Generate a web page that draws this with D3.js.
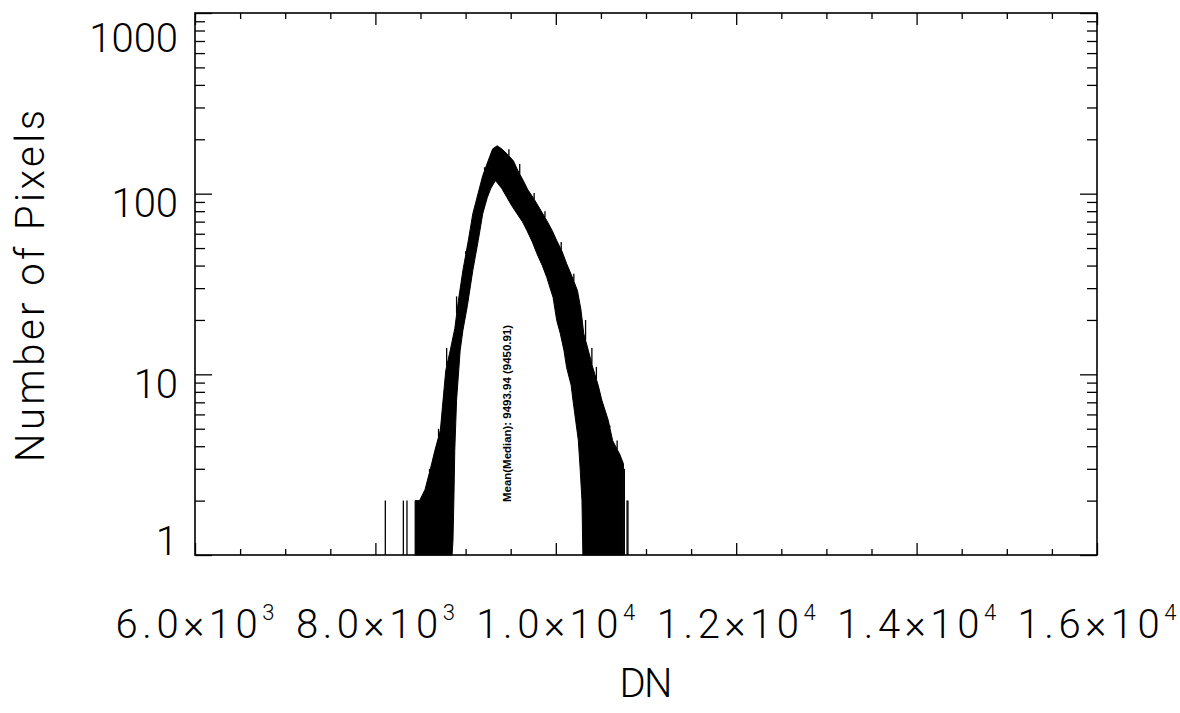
<!DOCTYPE html>
<html><head><meta charset="utf-8">
<script src="https://cdn.jsdelivr.net/npm/d3@7"></script>
<style>
body{margin:0;background:#fff;}
svg text{font-family:Roboto,"Liberation Sans","DejaVu Sans",sans-serif;font-weight:300;fill:#000;}
</style></head><body>
<svg id="c" width="1180" height="713"></svg>
<script>
// ---- data ----
const xTickValues   = [6000, 8000, 10000, 12000, 14000, 16000];
const xTickMantissa = ["6.0", "8.0", "1.0", "1.2", "1.4", "1.6"];
const xTickExponent = ["3", "3", "4", "4", "4", "4"];
const yTickValues   = [1, 10, 100, 1000];
const yTickLabels   = ["1", "10", "100", "1000"];

// upper envelope of the (very noisy, 1-DN bin) histogram band
const upperDN    = [8440,8490,8550,8610,8660,8720,8750,8780,8830,8880,8920,8970,9030,9080,9140,9190,9250,9300,9350,9400,9460,9530,9580,9640,9690,9750,9820,9900,9960,10010,10070,10120,10180,10240,10280,10310,10360,10410,10470,10510,10580,10630,10710,10750];
const upperCount = [2,2,2.3,3,3.8,4.9,7.2,10.5,13.6,17.9,25.6,37.6,55,77.5,101,126,152,177,184,177,166,152,134,118,105,95,83,71,62.5,55,47.8,41,34.8,29.1,22.6,16.8,13.6,10.9,8.7,7.2,5.6,4.3,3.6,3.2];
// lower envelope of the band (0 = empty bins, drawn at the bottom of the plot)
const lowerDN    = [8440,8850,8860,8870,8880,8900,8940,8970,9020,9080,9140,9190,9240,9280,9330,9350,9400,9460,9510,9570,9630,9680,9740,9790,9850,9900,9970,10010,10050,10090,10120,10170,10190,10250,10270,10290,10300,10750];
const lowerCount = [0,0,1.2,2,3.8,7.2,13.6,17.5,24,37.6,55,77.5,95,107,118,115,107,95,86,77.5,70,62.5,54,46.6,40,34.4,26.6,19.9,16.8,13.6,10.9,8.7,7.2,4.3,3.0,2.0,0,0];
// isolated bins standing out of the band
const spikeDN    = [8110, 8310, 8350, 8600, 8700, 8790, 8900, 9000, 9210, 9290, 9480, 9600, 9760, 9880, 10060, 10200, 10330, 10400, 10450, 10600, 10680, 10760, 10790, 10800];
const spikeCount = [2, 2, 2, 3, 5, 14, 27, 48, 140, 172, 176, 146, 101, 80, 54, 36, 20, 14, 11, 5.2, 4.3, 3, 2, 2];

const annotation = "Mean(Median): 9493.94 (9450.91)";
const xTitle = "DN";
const yTitle = "Number of Pixels";

// ---- layout ----
const L = 195, R = 1097, T = 13, B = 555;
const svg = d3.select("#c");
const x = d3.scaleLinear().domain([6000, 16000]).range([L, R]);
const y = d3.scaleLog().domain([1, 1000]).range([B, T]).clamp(true);
const yc = c => y(Math.max(c, 1));

// histogram band
const upper = upperDN.map((d, i) => [d, upperCount[i]]);
const lower = lowerDN.map((d, i) => [d, lowerCount[i]]).reverse();
const poly = upper.concat(lower);
svg.append("path")
  .attr("d", d3.line().x(d => x(d[0])).y(d => yc(d[1]))(poly) + "Z")
  .attr("fill", "#000").attr("stroke", "#000").attr("stroke-width", 1);

// spikes start on the band's upper edge (or the plot floor outside the band)
const upperAt = d3.scaleLinear().domain(upperDN).range(upperCount);
const spikeBase = d => (d < upperDN[0] || d > upperDN[upperDN.length - 1]) ? 1 : upperAt(d);
svg.append("g").selectAll("line").data(spikeDN).join("line")
  .attr("x1", d => x(d)).attr("x2", d => x(d))
  .attr("y1", d => yc(spikeBase(d))).attr("y2", (d, i) => yc(spikeCount[i]))
  .attr("stroke", "#000").attr("stroke-width", 1.3);

// ---- axes ----
const xMinor = d3.range(6000, 16001, 500).filter(v => v % 2000 !== 0);
const yMinor = [];
[1, 10, 100].forEach(dec => { for (let k = 2; k <= 9; k++) yMinor.push(dec * k); });

function axisG(ax, tx, ty) {
  const g = svg.append("g").attr("transform", `translate(${tx},${ty})`).call(ax);
  g.select(".domain").remove();
  g.selectAll("text").remove();
  g.selectAll("line").attr("stroke", "#000").attr("stroke-width", 1.3);
  return g;
}
axisG(d3.axisBottom(x).tickValues(xTickValues).tickSize(-12).tickFormat(""), 0, B);
axisG(d3.axisBottom(x).tickValues(xMinor).tickSize(-6).tickFormat(""), 0, B);
axisG(d3.axisTop(x).tickValues(xTickValues).tickSize(-12).tickFormat(""), 0, T);
axisG(d3.axisTop(x).tickValues(xMinor).tickSize(-6).tickFormat(""), 0, T);
axisG(d3.axisLeft(y).tickValues(yTickValues).tickSize(-17).tickFormat(""), L, 0);
axisG(d3.axisLeft(y).tickValues(yMinor).tickSize(-10).tickFormat(""), L, 0);
axisG(d3.axisRight(y).tickValues(yTickValues).tickSize(-17).tickFormat(""), R, 0);
axisG(d3.axisRight(y).tickValues(yMinor).tickSize(-10).tickFormat(""), R, 0);

svg.append("rect").attr("x", L).attr("y", T).attr("width", R - L).attr("height", B - T)
  .attr("fill", "none").attr("stroke", "#000").attr("stroke-width", 1.6);

// x tick labels
const xl = svg.append("g").selectAll("text").data(xTickValues).join("text")
  .attr("x", d => x(d)).attr("y", 638).attr("text-anchor", "middle")
  .attr("font-size", 40).attr("textLength", 159).attr("lengthAdjust", "spacing");
xl.append("tspan").text((d, i) => xTickMantissa[i] + "\u00d710");
xl.append("tspan").attr("dy", -18).attr("font-size", 22).text((d, i) => xTickExponent[i]);

// y tick labels
svg.append("g").selectAll("text").data(yTickValues).join("text")
  .attr("x", 178).attr("text-anchor", "end").attr("font-size", 40)
  .attr("y", d => Math.min(B, Math.max(T + 39, y(d) + 23.5)))
  .text((d, i) => yTickLabels[i]);

// titles
svg.append("text").attr("x", (L + R) / 2).attr("y", 697).attr("text-anchor", "middle")
  .attr("font-size", 40).attr("textLength", 53).attr("lengthAdjust", "spacing").text(xTitle);
svg.append("text").attr("transform", "translate(44,286) rotate(-90)").attr("text-anchor", "middle")
  .attr("font-size", 40).attr("textLength", 352).attr("lengthAdjust", "spacing").text(yTitle);

// annotation
svg.append("text").attr("transform", "translate(511,502) rotate(-90)")
  .attr("font-size", 10.5).style("font-weight", 700).style("font-family", "'Liberation Sans Narrow','Liberation Sans',sans-serif")
  .attr("textLength", 177).attr("lengthAdjust", "spacingAndGlyphs").text(annotation);
</script>
</body></html>
